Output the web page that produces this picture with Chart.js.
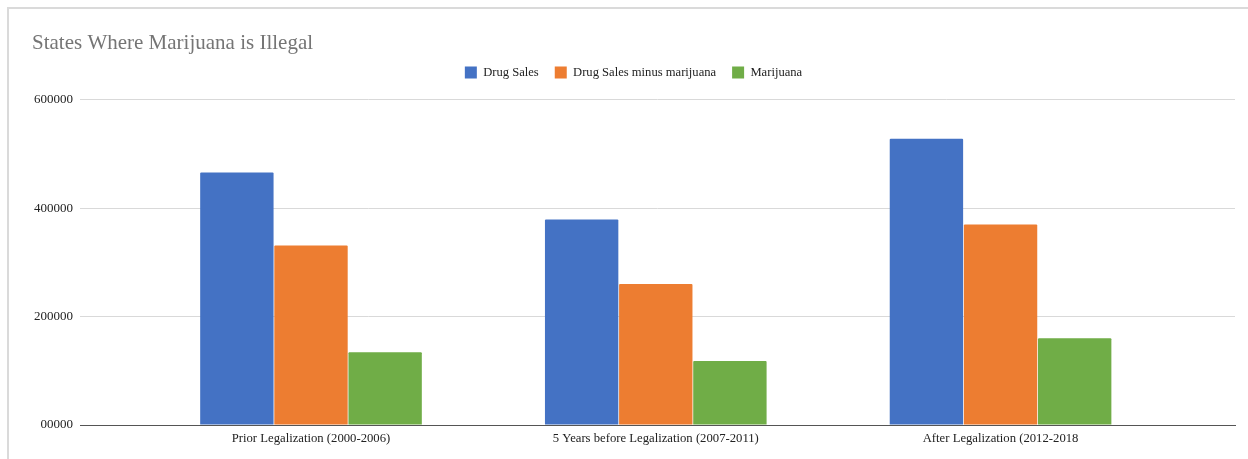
<!DOCTYPE html>
<html>
<head>
<meta charset="utf-8">
<script src="https://cdn.jsdelivr.net/npm/chart.js@4/dist/chart.umd.min.js"></script>
<style>
  html, body { margin: 0; padding: 0; background: #fff; }
  #wrap { position: relative; width: 1248px; height: 459px; }
  #frame {
    position: absolute; left: 7px; top: 7px; right: 0; bottom: 0;
    border-top: 2px solid #dadada; border-left: 2px solid #dadada;
    pointer-events: none;
  }
  canvas { position: absolute; left: 0; top: 0; }
</style>
</head>
<body>
<div id="wrap">
  <canvas id="chart" width="1248" height="459"></canvas>
  <div id="frame"></div>
</div>
<script>
  // periods on the x axis
  const periods = [
    "Prior Legalization (2000-2006)",
    "5 Years before Legalization (2007-2011)",
    "After Legalization (2012-2018"
  ];
  const drugSales = [466000, 379000, 528000];
  const drugSalesMinusMarijuana = [331000, 260000, 370000];
  const marijuana = [134000, 118000, 160000];
  const yTickLabels = ["00000", "200000", "400000", "600000"];

  const SERIF = "'Liberation Serif', 'DejaVu Serif', serif";
  const toPoints = (arr) => arr.map((v, i) => ({ x: i, y: v }));

  // leave some room between the legend and the plot
  const legendGap = {
    id: "legendGap",
    beforeInit(chart) {
      const fit = chart.legend.fit;
      chart.legend.fit = function () {
        fit.bind(chart.legend)();
        this.height += 11;
      };
    }
  };

  const chart = new Chart(document.getElementById("chart"), {
    type: "bar",
    data: {
      datasets: [
        { label: "Drug Sales", data: toPoints(drugSales), backgroundColor: "#4472c4" },
        { label: "Drug Sales minus marijuana", data: toPoints(drugSalesMinusMarijuana), backgroundColor: "#ed7d31" },
        { label: "Marijuana", data: toPoints(marijuana), backgroundColor: "#70ad47" }
      ]
    },
    plugins: [legendGap],
    options: {
      responsive: false,
      animation: false,
      devicePixelRatio: 1,
      layout: { padding: { left: 32, right: 13, top: 0, bottom: 0 } },
      datasets: {
        bar: {
          categoryPercentage: 0.645,
          barPercentage: 0.99,
          borderRadius: 1
        }
      },
      plugins: {
        title: {
          display: true,
          text: "States Where Marijuana is Illegal",
          align: "start",
          color: "#757575",
          font: { family: SERIF, size: 21, weight: "normal" },
          padding: { top: 31, bottom: -6 }
        },
        legend: {
          position: "top",
          labels: {
            boxWidth: 12,
            boxHeight: 12,
            color: "#222",
            padding: 16,
            font: { family: SERIF, size: 12.6 }
          }
        },
        tooltip: { enabled: false }
      },
      scales: {
        x: {
          type: "linear",
          offset: false,
          min: -0.67,
          max: 2.68,
          afterBuildTicks: (scale) => {
            scale.ticks = periods.map((_, i) => ({ value: i }));
          },
          afterFit: (scale) => { scale.height = 34; },
          ticks: {
            color: "#222",
            padding: 6,
            maxRotation: 0,
            font: { family: SERIF, size: 12.7 },
            callback: (v) => periods[v] ?? ""
          },
          grid: { display: false, drawTicks: false },
          border: { display: true, color: "#555", width: 1 }
        },
        y: {
          min: 0,
          max: 600000,
          afterFit: (scale) => { scale.width = 48; },
          ticks: {
            stepSize: 200000,
            color: "#222",
            padding: 7,
            font: { family: SERIF, size: 13 },
            callback: (v, i) => yTickLabels[i]
          },
          grid: { color: "#d9d9d9", drawTicks: false },
          border: { display: false }
        }
      }
    }
  });
</script>
</body>
</html>
